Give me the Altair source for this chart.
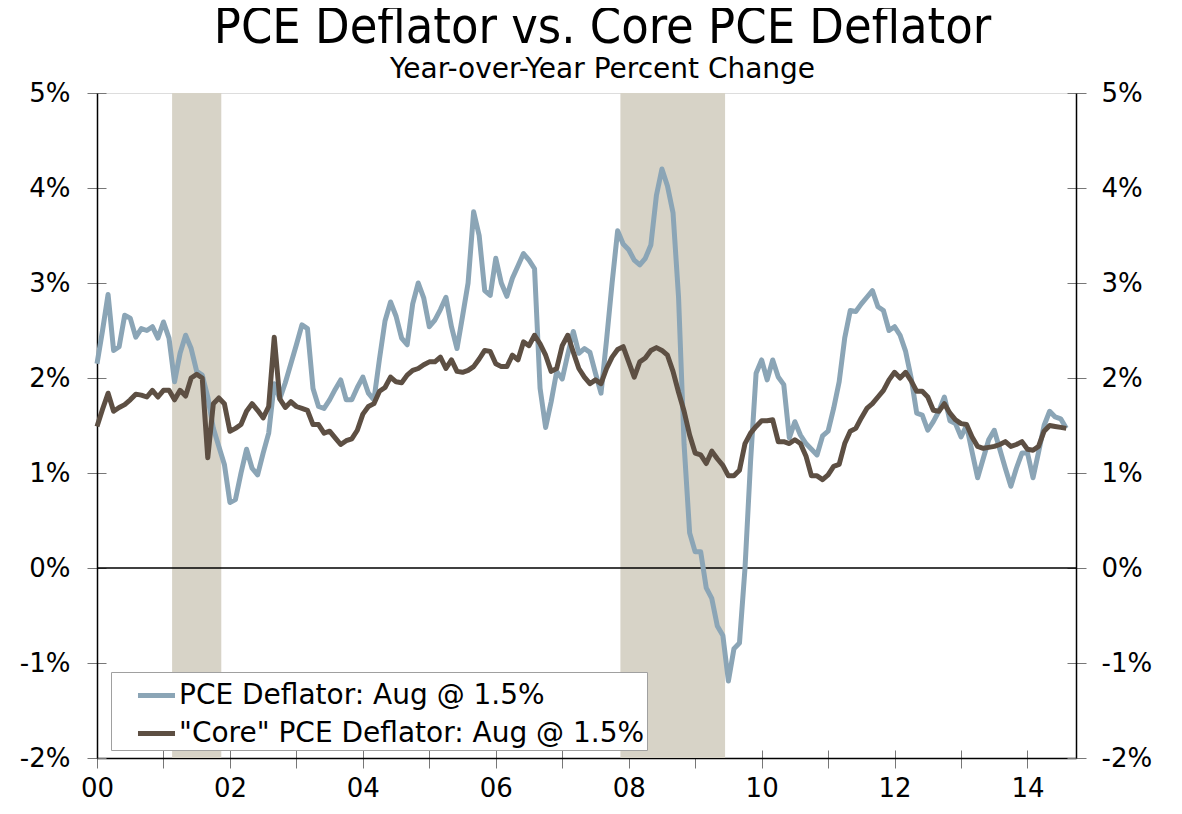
import altair as alt
import pandas as pd

# ---- data (monthly, Jan 2000 - Aug 2014) ----
start_year = 2000
pce = [
    2.15, 2.50, 2.88, 2.29, 2.33, 2.66, 2.63, 2.43, 2.52, 2.50, 2.54, 2.42,
    2.59, 2.42, 1.96, 2.26, 2.45, 2.31, 2.07, 2.03, 1.80, 1.47, 1.28, 1.09,
    0.69, 0.72, 1.00, 1.25, 1.05, 0.98, 1.21, 1.42, 1.94, 1.78, 1.95, 2.15,
    2.35, 2.56, 2.52, 1.89, 1.70, 1.68, 1.77, 1.88, 1.98, 1.77, 1.77, 1.90,
    2.01, 1.84, 1.77, 2.20, 2.60, 2.80, 2.65, 2.42, 2.35, 2.78, 3.00, 2.84,
    2.54, 2.61, 2.72, 2.85, 2.54, 2.31, 2.65, 3.00, 3.75, 3.50, 2.92, 2.87,
    3.26, 3.00, 2.86, 3.05, 3.18, 3.31, 3.24, 3.15, 1.89, 1.48, 1.75, 2.07,
    1.99, 2.25, 2.49, 2.26, 2.31, 2.27, 2.05, 1.84, 2.40, 3.00, 3.55, 3.41,
    3.35, 3.24, 3.19, 3.26, 3.40, 3.92, 4.20, 4.02, 3.74, 2.85, 1.30, 0.37,
    0.17, 0.17, -0.21, -0.32, -0.61, -0.71, -1.19, -0.85, -0.79, 0.00, 1.12, 2.05,
    2.19, 1.98, 2.19, 2.01, 1.93, 1.37, 1.54, 1.40, 1.31, 1.25, 1.19, 1.39,
    1.44, 1.68, 1.96, 2.42, 2.71, 2.70, 2.78, 2.85, 2.92, 2.75, 2.71, 2.50,
    2.54, 2.45, 2.28, 2.00, 1.63, 1.61, 1.45, 1.54, 1.65, 1.80, 1.55, 1.52,
    1.38, 1.50, 1.22, 0.95, 1.15, 1.35, 1.45, 1.25, 1.05, 0.86, 1.05, 1.21,
    1.21, 0.95, 1.22, 1.50, 1.65, 1.59, 1.57, 1.47,
]
core = [
    1.49, 1.67, 1.84, 1.65, 1.69, 1.72, 1.77, 1.83, 1.82, 1.80, 1.87, 1.80,
    1.87, 1.87, 1.77, 1.87, 1.81, 2.00, 2.04, 2.00, 1.16, 1.73, 1.79, 1.73,
    1.44, 1.47, 1.51, 1.65, 1.73, 1.66, 1.58, 1.70, 2.43, 1.78, 1.69, 1.75,
    1.70, 1.68, 1.66, 1.51, 1.51, 1.42, 1.44, 1.37, 1.30, 1.34, 1.36, 1.45,
    1.62, 1.70, 1.73, 1.86, 1.90, 2.01, 1.96, 1.95, 2.03, 2.08, 2.10, 2.14,
    2.17, 2.17, 2.22, 2.10, 2.19, 2.07, 2.06, 2.08, 2.12, 2.20, 2.29, 2.28,
    2.15, 2.12, 2.12, 2.24, 2.19, 2.38, 2.34, 2.45, 2.36, 2.24, 2.07, 2.10,
    2.34, 2.45, 2.27, 2.10, 2.01, 1.94, 1.98, 1.94, 2.10, 2.22, 2.30, 2.33,
    2.17, 2.01, 2.17, 2.21, 2.29, 2.32, 2.29, 2.24, 2.07, 1.85, 1.65, 1.40,
    1.21, 1.19, 1.10, 1.23, 1.15, 1.08, 0.97, 0.97, 1.03, 1.31, 1.42, 1.49,
    1.55, 1.55, 1.56, 1.33, 1.33, 1.31, 1.35, 1.31, 1.18, 0.97, 0.97, 0.93,
    0.98, 1.07, 1.09, 1.31, 1.44, 1.47, 1.58, 1.68, 1.73, 1.80, 1.87, 1.98,
    2.06, 2.00, 2.06, 1.97, 1.86, 1.86, 1.80, 1.66, 1.65, 1.73, 1.63, 1.56,
    1.52, 1.51, 1.38, 1.28, 1.26, 1.27, 1.28, 1.30, 1.33, 1.28, 1.30, 1.33,
    1.25, 1.24, 1.28, 1.44, 1.50, 1.49, 1.48, 1.47,
]
recession_start = [2001.13, 2007.875]
recession_end = [2001.87, 2009.45]
x_tick_years = list(range(2000, 2015))
y_tick_values = [-2, -1, 0, 1, 2, 3, 4, 5]
series_names = ["PCE Deflator: Aug @ 1.5%", '"Core" PCE Deflator: Aug @ 1.5%']
series_colors = ["#8ba5b6", "#5d4f43"]

X_MIN, X_MAX = 2000, 2014.73
Y_MIN, Y_MAX = -2, 5

t = [start_year + i / 12 for i in range(len(pce))]
df_pce = pd.DataFrame({"t": t, "v": pce, "series": series_names[0]})
df_core = pd.DataFrame({"t": t, "v": core, "series": series_names[1]})
df_rec = pd.DataFrame({"start": recession_start, "end": recession_end})
df_zero = pd.DataFrame({"z": [0]})

FONT = "DejaVu Sans"
TICK_COLOR = "#777777"

x_axis = alt.Axis(
    orient="bottom", values=x_tick_years,
    labelExpr="datum.value % 2 == 0 ? ((datum.value % 100 < 10 ? '0' : '') + (datum.value % 100)) : ''",
    tickSize=10, tickColor=TICK_COLOR, tickWidth=1,
    domainColor="black", domainWidth=1.5,
    labelFontSize=26, labelPadding=7, labelColor="black", labelFont=FONT,
    labelFlush=False, labelOverlap=False, grid=False, title=None,
)
x_scale = alt.Scale(domain=[X_MIN, X_MAX], nice=False, zero=False)
y_scale = alt.Scale(domain=[Y_MIN, Y_MAX], nice=False, zero=False)

left_axis = alt.Axis(
    orient="left", values=y_tick_values, labelExpr="datum.value + '%'",
    tickSize=10, tickColor=TICK_COLOR, domainColor="black", domainWidth=1.5,
    labelFontSize=26, labelPadding=17, labelColor="black", labelFont=FONT,
    labelFlush=False, grid=False, title=None,
)
right_axis = alt.Axis(
    orient="right", values=y_tick_values, labelExpr="datum.value + '%'",
    tickSize=10, tickColor=TICK_COLOR, domainColor="black", domainWidth=1.5,
    labelFontSize=26, labelPadding=15, labelColor="black", labelFont=FONT,
    labelFlush=False, grid=False, title=None,
)
# inward halves of the crossing tick marks
inner_x_axis = alt.Axis(
    orient="bottom", offset=-8, values=x_tick_years, tickSize=8, tickColor=TICK_COLOR,
    domain=False, labels=False, grid=False, title=None,
)
inner_left_axis = alt.Axis(
    orient="left", offset=-9, values=y_tick_values, tickSize=9, tickColor=TICK_COLOR,
    domain=False, labels=False, grid=False, title=None,
)
inner_right_axis = alt.Axis(
    orient="right", offset=-9, values=y_tick_values, tickSize=9, tickColor=TICK_COLOR,
    domain=False, labels=False, grid=False, title=None,
)

color_scale = alt.Scale(domain=series_names, range=series_colors)
legend = alt.Legend(
    orient="none", legendX=14, legendY=579, title=None,
    fillColor="white", strokeColor="#a0a0a0",
    padding=2, rowPadding=2, symbolType="stroke", symbolSize=1370,
    symbolStrokeWidth=5, symbolOffset=22, labelOffset=1,
    labelFontSize=28, labelFont=FONT, labelColor="black", labelLimit=800,
)

rec = alt.Chart(df_rec).mark_rect(color="#d7d3c7").encode(
    x=alt.X("start:Q", scale=x_scale, axis=None),
    x2="end:Q",
)

zero = alt.Chart(df_zero).mark_rule(color="black", strokeWidth=1.5).encode(
    y=alt.Y("z:Q", scale=y_scale, axis=right_axis),
)

ticks_in_left = alt.Chart(df_pce).mark_line(opacity=0).encode(
    x=alt.X("t:Q", scale=x_scale, axis=inner_x_axis),
    y=alt.Y("v:Q", scale=y_scale, axis=inner_left_axis),
)
ticks_in_right = alt.Chart(df_pce).mark_line(opacity=0).encode(
    x=alt.X("t:Q", scale=x_scale, axis=None),
    y=alt.Y("v:Q", scale=y_scale, axis=inner_right_axis),
)

line_pce = alt.Chart(df_pce).mark_line(strokeWidth=5, strokeJoin="round").encode(
    x=alt.X("t:Q", scale=x_scale, axis=x_axis),
    y=alt.Y("v:Q", scale=y_scale, axis=left_axis),
    color=alt.Color("series:N", scale=color_scale, legend=legend),
)
line_core = alt.Chart(df_core).mark_line(strokeWidth=5, strokeJoin="round").encode(
    x=alt.X("t:Q", scale=x_scale, axis=x_axis),
    y=alt.Y("v:Q", scale=y_scale, axis=left_axis),
    color=alt.Color("series:N", scale=color_scale, legend=legend),
)

lines = alt.layer(line_pce, line_core)

chart = alt.layer(rec, ticks_in_left, ticks_in_right, zero, lines).resolve_scale(
    x="independent", y="independent"
).properties(
    width=979, height=665,
    padding={"left": 89, "top": 85, "right": 98, "bottom": 48},
    autosize=alt.AutoSizeParams(type="none"),
    title=alt.Title(
        "PCE Deflator vs. Core PCE Deflator",
        subtitle="Year-over-Year Percent Change",
        font="DejaVu Sans Condensed, DejaVu Sans", fontSize=50, fontWeight="normal", color="black",
        subtitleFont=FONT, subtitleFontSize=28, subtitleColor="black",
        subtitlePadding=3, anchor="middle", dx=16, offset=-4,
    ),
).configure_view(strokeWidth=0).configure(font=FONT)

chart.save("out.html", embed_options={"renderer": "svg", "actions": False})
